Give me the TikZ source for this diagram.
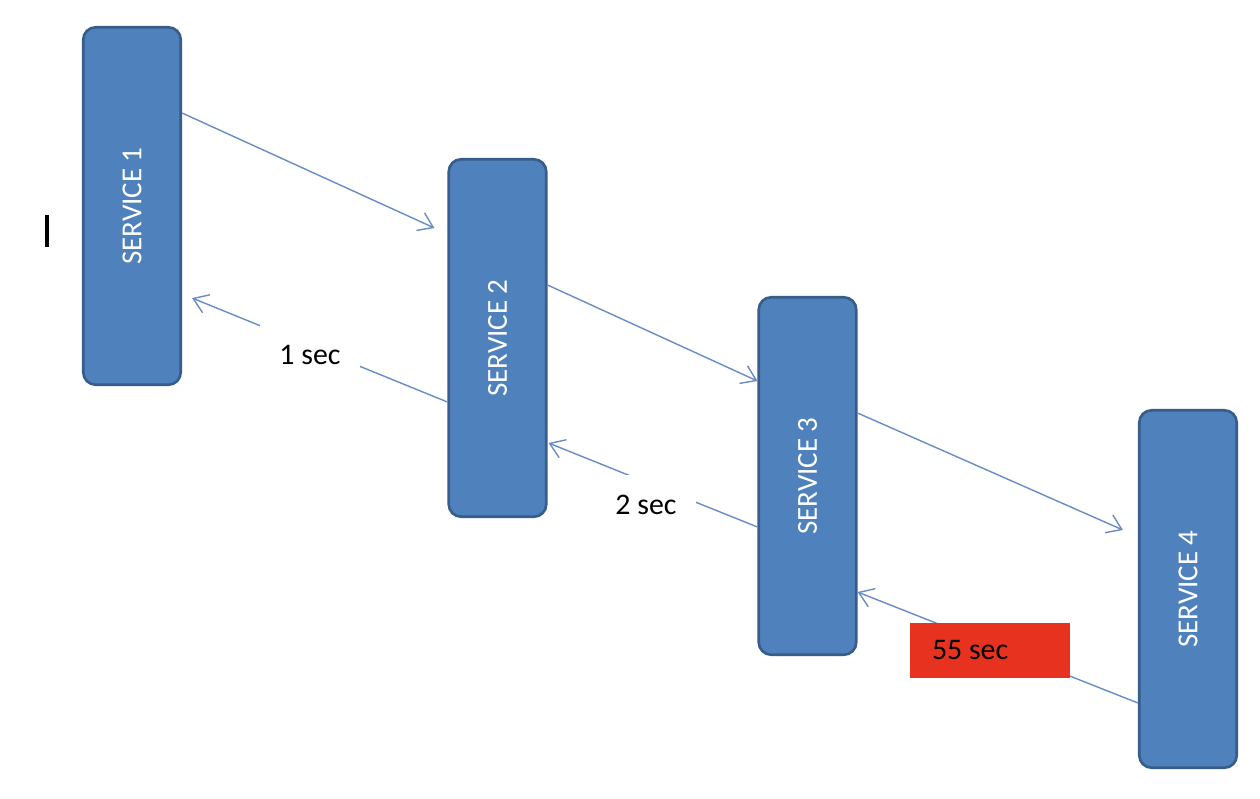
\documentclass[tikz,border=0pt]{standalone}
\usepackage{fontspec}
\setmainfont{Carlito}
\usepackage{xcolor}
\usepackage{tikz}
\usetikzlibrary{calc,arrows.meta}
\definecolor{boxfill}{HTML}{4F81BD}
\definecolor{boxline}{HTML}{385D8A}
\definecolor{wire}{HTML}{6A8CC6}
\definecolor{alert}{HTML}{E6321F}
\tikzset{
  svc/.style={draw=boxline, fill=boxfill, line width=1.5pt, rounded corners=7pt, minimum width=1.95cm, minimum height=7.15cm, inner sep=0pt, text=white, font=\fontsize{16.5}{20}\selectfont},
  call/.style={draw=wire, line width=0.8pt, -{Straight Barb[length=8pt,width=11pt]}},
  tag/.style={fill=white, minimum width=2cm, minimum height=1.2cm, inner sep=0pt, font=\fontsize{17}{20}\selectfont},
  late/.style={fill=alert, inner xsep=0.44cm, inner ysep=0pt, minimum height=1.1cm, font=\fontsize{17}{20}\selectfont},
}
\begin{document}
\begin{tikzpicture}[x=0.02cm,y=-0.02cm]
  \fill[white] (0,0) rectangle (1260,798);
  \useasboundingbox (0,0) rectangle (1260,798);
  \node[svc] (s1) at (132,206) {\rotatebox{90}{SERVICE 1}};
  \node[svc] (s2) at (497.5,338) {\rotatebox{90}{SERVICE 2}};
  \node[svc] (s3) at (807.5,476) {\rotatebox{90}{SERVICE 3}};
  \node[svc] (s4) at (1188,589) {\rotatebox{90}{SERVICE 4}};
  \draw[call] ($(s1.east)+(0,-93)$) -- ($(s2.west)+(-13,-110)$);
  \draw[call] ($(s2.east)+(0,-53)$) -- ($(s3.west)+(0,-95)$);
  \draw[call] ($(s3.east)+(0,-63)$) -- ($(s4.west)+(-15,-59)$);
  \draw[call] ($(s2.west)+(0,64)$) -- ($(s1.east)+(10,92)$);
  \draw[call] ($(s3.west)+(0,51)$) -- ($(s2.east)+(1,105)$);
  \draw[call] ($(s4.west)+(0,114)$) -- ($(s3.east)+(0,116)$);
  \node[tag] (d1) at (310,355) {1 sec};
  \node[tag] (d2) at (646,505) {2 sec};
  \node[late] (d3) at (990,650.5) {\makebox[2.32cm][l]{55 sec}};
  \draw[line width=2.2pt] (47,215) -- (47,247);
\end{tikzpicture}
\end{document}
